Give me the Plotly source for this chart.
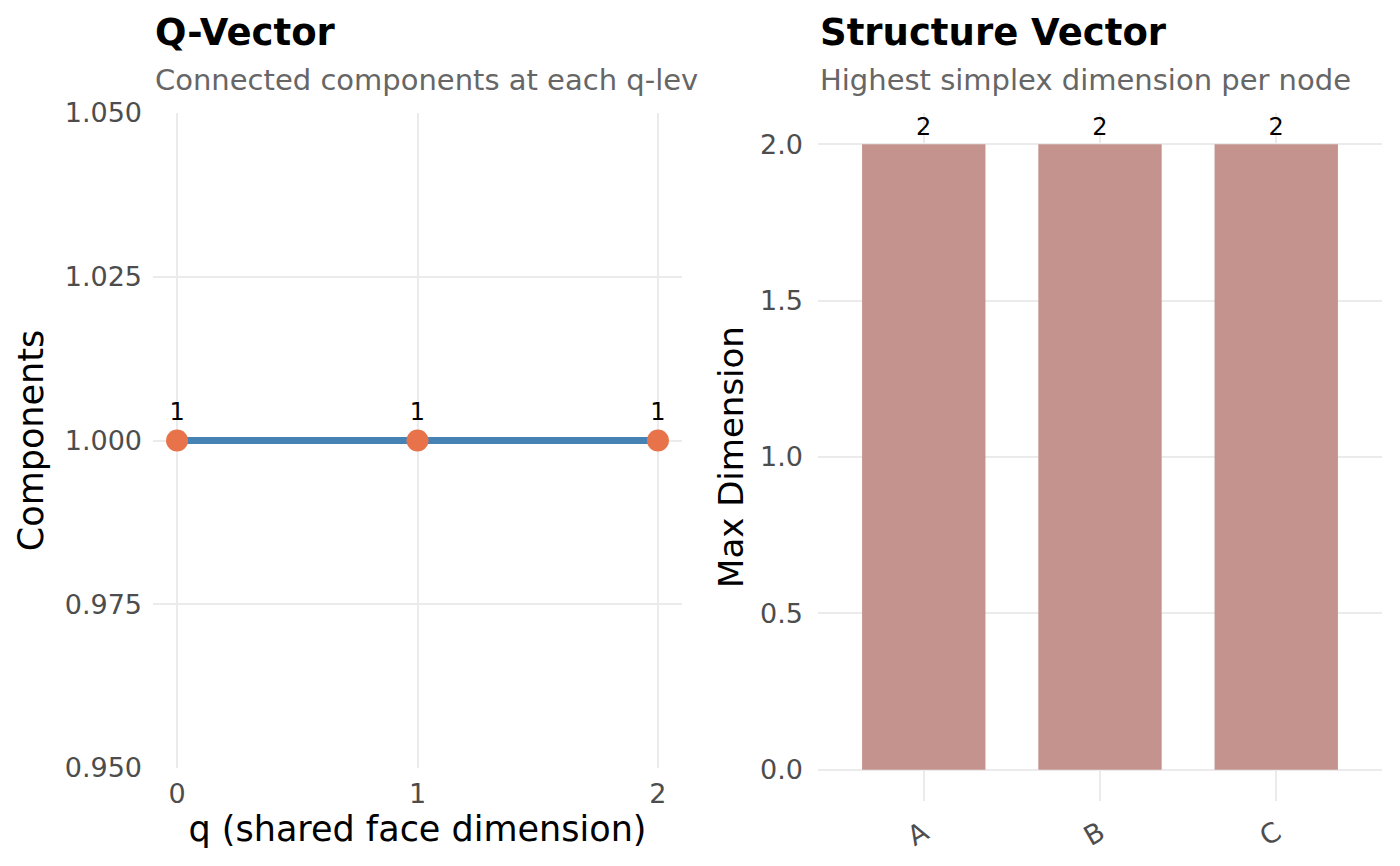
import plotly.graph_objects as go

# Data
q_levels = [0, 1, 2]
components = [1, 1, 1]
nodes = ["A", "B", "C"]
max_dim = [2, 2, 2]

W, H = 1400, 866
OFF = 8  # default page body margin
def px_x(p): return (p - OFF) / W
def px_y(p): return 1 - (p - OFF) / H

FONT = "DejaVu Sans"
GRID = "#ebebeb"
TICKC = "#4d4d4d"

fig = go.Figure()

fig.add_trace(go.Scatter(
    x=q_levels, y=components, mode="lines",
    line=dict(color="#4682B4", width=7),
    xaxis="x", yaxis="y", showlegend=False, cliponaxis=False))
fig.add_trace(go.Scatter(
    x=q_levels, y=components, mode="markers+text",
    marker=dict(color="#E8734A", size=22),
    text=[str(v) for v in components], textposition="top center",
    textfont=dict(family=FONT, size=24, color="black"),
    xaxis="x", yaxis="y", showlegend=False, cliponaxis=False))

fig.add_trace(go.Bar(
    x=nodes, y=max_dim, width=0.7,
    marker=dict(color="#C4938E", line=dict(width=0)),
    text=[str(v) for v in max_dim], textposition="outside",
    textfont=dict(family=FONT, size=24, color="black"),
    xaxis="x2", yaxis="y2", showlegend=False, cliponaxis=False))

common = dict(automargin=False, zeroline=False, showline=False,
              showgrid=True, gridcolor=GRID, gridwidth=2)

fig.update_layout(
    width=W, height=H,
    margin=dict(l=0, r=0, t=0, b=0, autoexpand=False),
    paper_bgcolor="white", plot_bgcolor="white",
    font=dict(family=FONT, color="black"),
    xaxis=dict(domain=[px_x(153), px_x(682)], range=[-0.1, 2.1],
               tickvals=q_levels, ticktext=[str(v) for v in q_levels],
               ticks="", ticklabelstandoff=7, tickfont=dict(size=27, color=TICKC),
               title=dict(text="q (shared face dimension)", font=dict(size=35), standoff=0),
               anchor="y", **common),
    yaxis=dict(domain=[px_y(768), px_y(113)], range=[0.95, 1.05],
               tickvals=[0.95, 0.975, 1.0, 1.025, 1.05], tickformat=".3f",
               ticks="", ticklabelstandoff=10, tickfont=dict(size=27, color=TICKC),
               title=dict(text="Components", font=dict(size=35), standoff=10),
               anchor="x", **common),
    xaxis2=dict(domain=[px_x(818), px_x(1382)], range=[-0.6, 2.6],
                type="category", ticks="", ticklabelstandoff=10,
                tickangle=-30, tickfont=dict(size=27, color=TICKC),
                anchor="y2", **common),
    yaxis2=dict(domain=[px_y(801), px_y(113)], range=[-0.1, 2.1],
                tickvals=[0, 0.5, 1.0, 1.5, 2.0], tickformat=".1f",
                ticks="", ticklabelstandoff=14, tickfont=dict(size=27, color=TICKC),
                title=dict(text="Max Dimension", font=dict(size=34), standoff=6),
                anchor="x2", **common),
    annotations=[
        dict(text="<b>Q-Vector</b>", x=px_x(153), y=px_y(33), xref="paper", yref="paper",
             xanchor="left", yanchor="middle", showarrow=False,
             font=dict(size=37, color="black", family=FONT)),
        dict(text="Connected components at each q-lev", x=px_x(153), y=px_y(80),
             xref="paper", yref="paper", xanchor="left", yanchor="middle", showarrow=False,
             font=dict(size=29, color="#666666", family=FONT)),
        dict(text="<b>Structure Vector</b>", x=px_x(818), y=px_y(33), xref="paper", yref="paper",
             xanchor="left", yanchor="middle", showarrow=False,
             font=dict(size=37, color="black", family=FONT)),
        dict(text="Highest simplex dimension per node", x=px_x(818), y=px_y(80),
             xref="paper", yref="paper", xanchor="left", yanchor="middle", showarrow=False,
             font=dict(size=29, color="#666666", family=FONT)),
    ],
)

fig.write_html("out.html")
